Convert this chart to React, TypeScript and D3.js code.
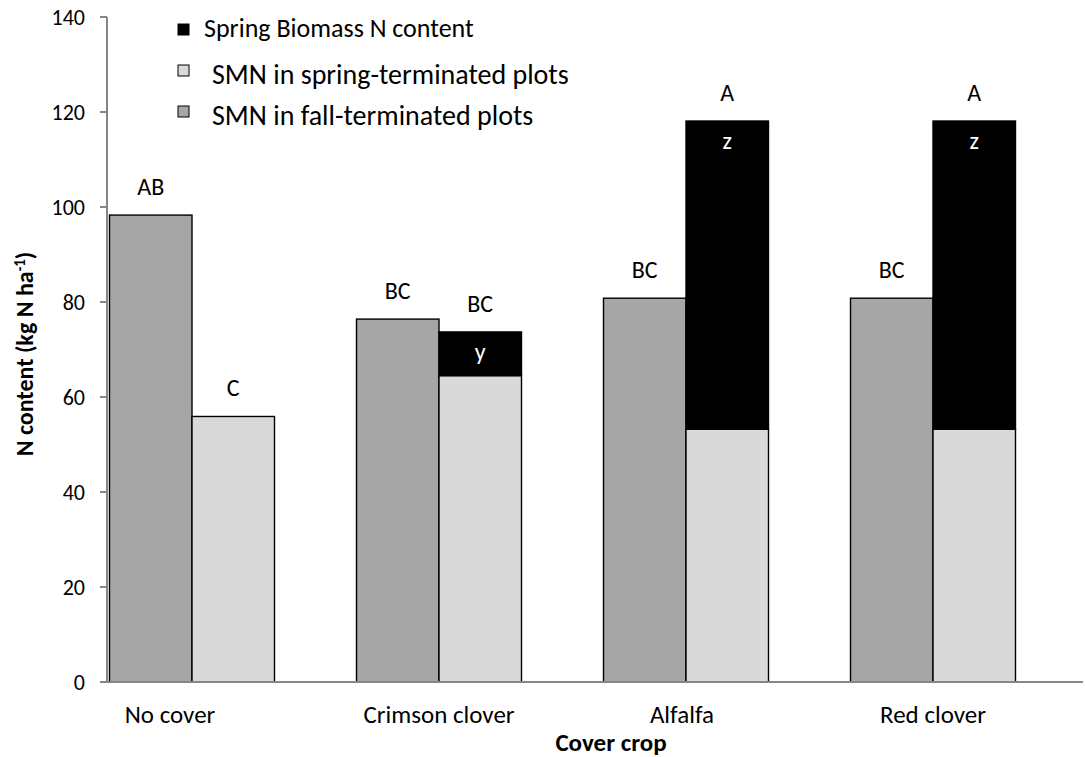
import React from "react";
import * as d3 from "d3";

const categories = ["No cover", "Crimson clover", "Alfalfa", "Red clover"];
const fallSMN = [98.3, 76.4, 80.8, 80.8];
const springSMN = [55.9, 64.5, 53.2, 53.2];
const springBiomass = [0, 9.2, 64.9, 64.9];
const fallLetters = ["AB", "BC", "BC", "BC"];
const springLetters = ["C", "BC", "A", "A"];
const biomassLetters = ["", "y", "z", "z"];
const yTicks = [0, 20, 40, 60, 80, 100, 120, 140];
const legendLabels = ["Spring Biomass N content", "SMN in spring-terminated plots", "SMN in fall-terminated plots"];
const legendColors = ["#000000", "#d9d9d9", "#a6a6a6"];

// layout-only tweaks (category label shifts seen in the reference)
const labelShift = [-22, 0, -4, 0];

const FONT = "Carlito, Calibri, Lato, 'Open Sans', sans-serif";

export default function App() {
  const W = 1085, H = 757;
  const axisX = 107;
  const axisRight = 1083;
  const y = d3.scaleLinear().domain([0, 140]).range([682, 17]);
  const x0 = d3.scaleBand<string>().domain(categories).range([68.5, 1056.5]).paddingInner(0.332).paddingOuter(0.166);
  const x1 = d3.scaleBand<string>().domain(["fall", "spring"]).range([0, x0.bandwidth()]);

  return (
    <svg width={W} height={H} style={{ position: "absolute", left: 0, top: 0, background: "#fff" }} fontFamily={FONT}>
      {categories.map((c, i) => {
        const gx = x0(c)!;
        const fx = gx + x1("fall")!;
        const sx = gx + x1("spring")!;
        const bw = x1.bandwidth();
        const sTop = springSMN[i] + springBiomass[i];
        return (
          <g key={c}>
            <rect x={fx} y={y(fallSMN[i])} width={bw} height={y(0) - y(fallSMN[i])} fill="#a6a6a6" stroke="#000" strokeWidth={1.4} />
            <rect x={sx} y={y(springSMN[i])} width={bw} height={y(0) - y(springSMN[i])} fill="#d9d9d9" stroke="#000" strokeWidth={1.4} />
            {springBiomass[i] > 0 && (
              <rect x={sx} y={y(sTop)} width={bw} height={y(springSMN[i]) - y(sTop)} fill="#000" stroke="#000" strokeWidth={1.4} />
            )}
            <text x={fx + bw / 2} y={y(fallSMN[i]) - 20} textAnchor="middle" fontSize={24} fill="#000">{fallLetters[i]}</text>
            <text x={sx + bw / 2} y={y(sTop) - 20} textAnchor="middle" fontSize={24} fill="#000">{springLetters[i]}</text>
            {biomassLetters[i] && (
              <text x={sx + bw / 2} y={y(sTop) + 28} textAnchor="middle" fontSize={24} fill="#fff">{biomassLetters[i]}</text>
            )}
            <text x={gx + x0.bandwidth() / 2 + labelShift[i]} y={723} textAnchor="middle" fontSize={25} fill="#000">{c}</text>
          </g>
        );
      })}
      <line x1={axisX} x2={axisX} y1={y(140)} y2={y(0)} stroke="#868686" strokeWidth={2} />
      <line x1={axisX - 7} x2={axisRight} y1={y(0)} y2={y(0)} stroke="#868686" strokeWidth={2} />
      {yTicks.map((t) => (
        <g key={t}>
          <line x1={axisX - 7} x2={axisX} y1={y(t)} y2={y(t)} stroke="#868686" strokeWidth={2} />
          <text x={axisX - 22} y={y(t) + 8} textAnchor="end" fontSize={22} fill="#000">{t}</text>
        </g>
      ))}
      <text x={611} y={751} textAnchor="middle" fontSize={25} fontWeight="bold" fill="#000">Cover crop</text>
      <text transform={`translate(33, 354) rotate(-90)`} textAnchor="middle" fontSize={24} fontWeight="bold" fill="#000">
        N content (kg N ha<tspan dy={-8} fontSize={15}>-1</tspan><tspan dy={8}>)</tspan>
      </text>
      {legendLabels.map((lab, i) => (
        <g key={lab}>
          <rect x={178} y={[24, 65, 106][i]} width={11} height={11} fill={legendColors[i]} stroke="#000" strokeWidth={1} />
          <text x={i === 0 ? 204 : 212} y={[37, 84, 125][i]} fontSize={i === 0 ? 26 : 28} fill="#000">{lab}</text>
        </g>
      ))}
    </svg>
  );
}
